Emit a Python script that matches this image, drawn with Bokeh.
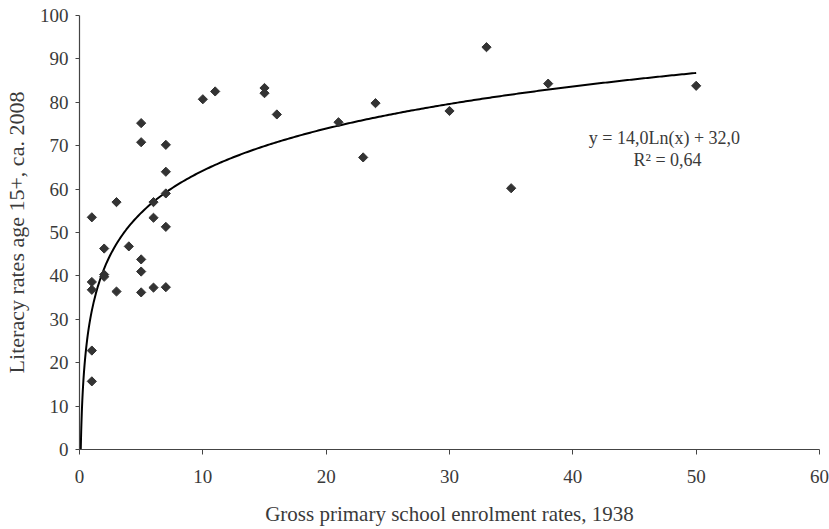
import numpy as np
from bokeh.plotting import figure
from bokeh.models import Range1d, FixedTicker, ColumnDataSource
from bokeh.core.properties import value
from bokeh.embed import file_html
from bokeh.resources import INLINE

# Data
enrolment_1938 = [1, 1, 1, 1, 1,
                  2, 2, 2,
                  3, 3,
                  4,
                  5, 5, 5, 5, 5,
                  6, 6, 6,
                  7, 7, 7, 7, 7,
                  10, 11, 15, 15, 16, 21, 23, 24, 30, 33, 35, 38, 50]
literacy_2008 = [53.5, 38.6, 36.8, 22.8, 15.7,
                 46.3, 40.3, 39.8,
                 57.0, 36.4,
                 46.8,
                 75.2, 70.8, 43.8, 41.0, 36.2,
                 57.0, 53.4, 37.3,
                 70.2, 64.0, 59.0, 51.3, 37.4,
                 80.7, 82.5, 83.3, 82.1, 77.2, 75.4, 67.3, 79.8, 78.0, 92.7, 60.2, 84.3, 83.8]

trend_a = 14.0
trend_b = 32.0
x_ticks = [0, 10, 20, 30, 40, 50, 60]
y_ticks = [0, 10, 20, 30, 40, 50, 60, 70, 80, 90, 100]
eq_label = ["y = 14,0Ln(x) + 32,0", "R\u00b2 = 0,64"]

FONT = "Liberation Serif"
TXT = "#3a3a3a"

p = figure(width=829, height=529, output_backend="svg", toolbar_location=None,
           x_range=Range1d(0, 60), y_range=Range1d(0, 100),
           min_border_left=79, min_border_right=10, min_border_top=15, min_border_bottom=80)
p.outline_line_color = None
p.grid.visible = False
p.background_fill_color = "white"

for ax in (p.xaxis[0], p.yaxis[0]):
    ax.axis_line_color = "#444444"
    ax.axis_line_width = 1.2
    ax.major_tick_line_color = "#444444"
    ax.minor_tick_line_color = None
    ax.major_tick_in = 0
    ax.major_label_text_font = FONT
    ax.major_label_text_font_size = "19px"
    ax.major_label_text_color = TXT
    ax.axis_label_text_font = FONT
    ax.axis_label_text_font_style = "normal"
    ax.axis_label_text_color = TXT

p.xaxis.axis_label_text_font_size = "21px"
p.yaxis.axis_label_text_font_size = "22px"
p.xaxis.major_tick_out = 5
p.yaxis.major_tick_out = 4
p.xaxis.major_label_standoff = 15
p.yaxis.major_label_standoff = 7
p.xaxis.ticker = FixedTicker(ticks=x_ticks)
p.yaxis.ticker = FixedTicker(ticks=y_ticks)
p.xaxis.axis_label = "Gross primary school enrolment rates, 1938"
p.yaxis.axis_label = "Literacy rates age 15+, ca. 2008"
p.xaxis.axis_label_standoff = 16
p.yaxis.axis_label_standoff = 8

# Trend line y = a ln(x) + b, from y=0 up to the largest x
x0 = np.exp(-trend_b / trend_a)
xs = np.concatenate([np.geomspace(x0, 1, 80), np.linspace(1, max(enrolment_1938), 300)[1:]])
ys = trend_a * np.log(xs) + trend_b
p.line(xs, ys, line_color="black", line_width=2)

src = ColumnDataSource(dict(x=enrolment_1938, y=literacy_2008))
p.scatter("x", "y", source=src, marker="square", angle=np.pi / 4, size=6.5,
          fill_color="#333333", line_color="#333333")

p.text(x=[47.43, 47.68], y=[71.66, 66.8], text=eq_label,
       text_font=value(FONT), text_font_size="18px", text_color=TXT,
       text_align="center", text_baseline="middle")

open("out.html", "w").write(file_html(p, INLINE))
